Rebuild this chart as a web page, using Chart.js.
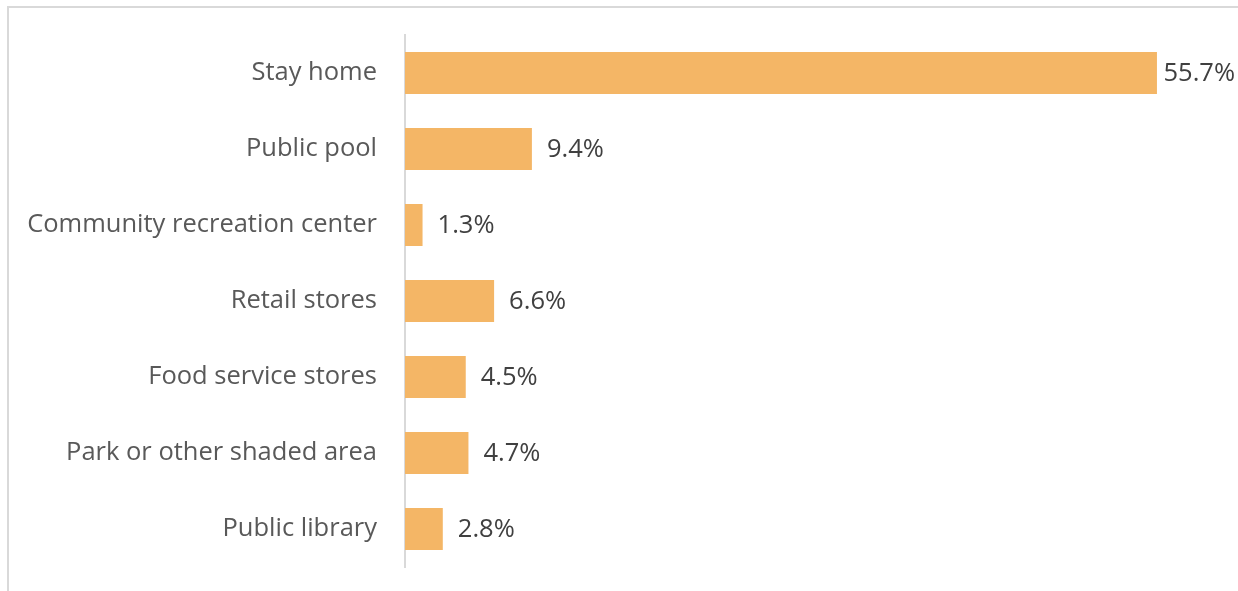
<!DOCTYPE html>
<html>
<head>
<meta charset="utf-8">
<script src="https://cdn.jsdelivr.net/npm/chart.js@4"></script>
<style>
  html, body { margin: 0; padding: 0; background: #fff; }
  #wrap { position: relative; width: 1238px; height: 591px; overflow: hidden; }
  #frame { position: absolute; left: 7px; top: 6px; width: 1300px; height: 700px;
           border-top: 2px solid #d9d9d9; border-left: 2px solid #d9d9d9; }
  canvas { position: absolute; left: 0; top: 0; }
</style>
</head>
<body>
<div id="wrap">
  <div id="frame"></div>
  <canvas id="chart" width="1238" height="591"></canvas>
</div>
<script>
var lugares = ["Stay home", "Public pool", "Community recreation center", "Retail stores",
               "Food service stores", "Park or other shaded area", "Public library"];
var percentuais = [55.7, 9.4, 1.3, 6.6, 4.5, 4.7, 2.8];

var fonte = "'Open Sans', sans-serif";

// escreve o valor ao lado de cada barra
var rotulos = {
    id: 'rotulos',
    afterDatasetsDraw: function (chart) {
        var ctx = chart.ctx;
        var meta = chart.getDatasetMeta(0);
        ctx.save();
        ctx.font = "25.5px " + fonte;
        ctx.fillStyle = "#404040";
        ctx.textBaseline = "middle";
        ctx.textAlign = "left";
        meta.data.forEach(function (barra, i) {
            var texto = percentuais[i].toFixed(1) + "%";
            var w = ctx.measureText(texto).width;
            var x = Math.min(barra.x + 15, chart.width - w - 3);
            ctx.fillText(texto, x, barra.y + 1);
        });
        ctx.restore();
    }
};

var ct = document.getElementById("chart");

var grafico = new Chart(ct, {
    type: 'bar',
    data: {
        labels: lugares,
        datasets: [{
            data: percentuais,
            backgroundColor: '#f4b666',
            borderWidth: 0,
            categoryPercentage: 1,
            barPercentage: 0.553
        }]
    },
    options: {
        indexAxis: 'y',
        responsive: false,
        animation: false,
        layout: { padding: { left: 0, right: 23, top: 35, bottom: 24 } },
        plugins: { legend: { display: false }, tooltip: { enabled: false } },
        scales: {
            x: { display: false, min: 0, max: 60 },
            y: {
                afterFit: function (s) {
                    s.width = 405;
                    s.paddingTop = 0;
                    s.paddingBottom = 0;
                },
                grid: { display: false, drawTicks: false },
                border: { display: true, color: '#d9d9d9', width: 2 },
                ticks: {
                    padding: 28,
                    color: '#595959',
                    font: { family: fonte, size: 25.5 }
                }
            }
        }
    },
    plugins: [rotulos]
});
</script>
</body>
</html>
